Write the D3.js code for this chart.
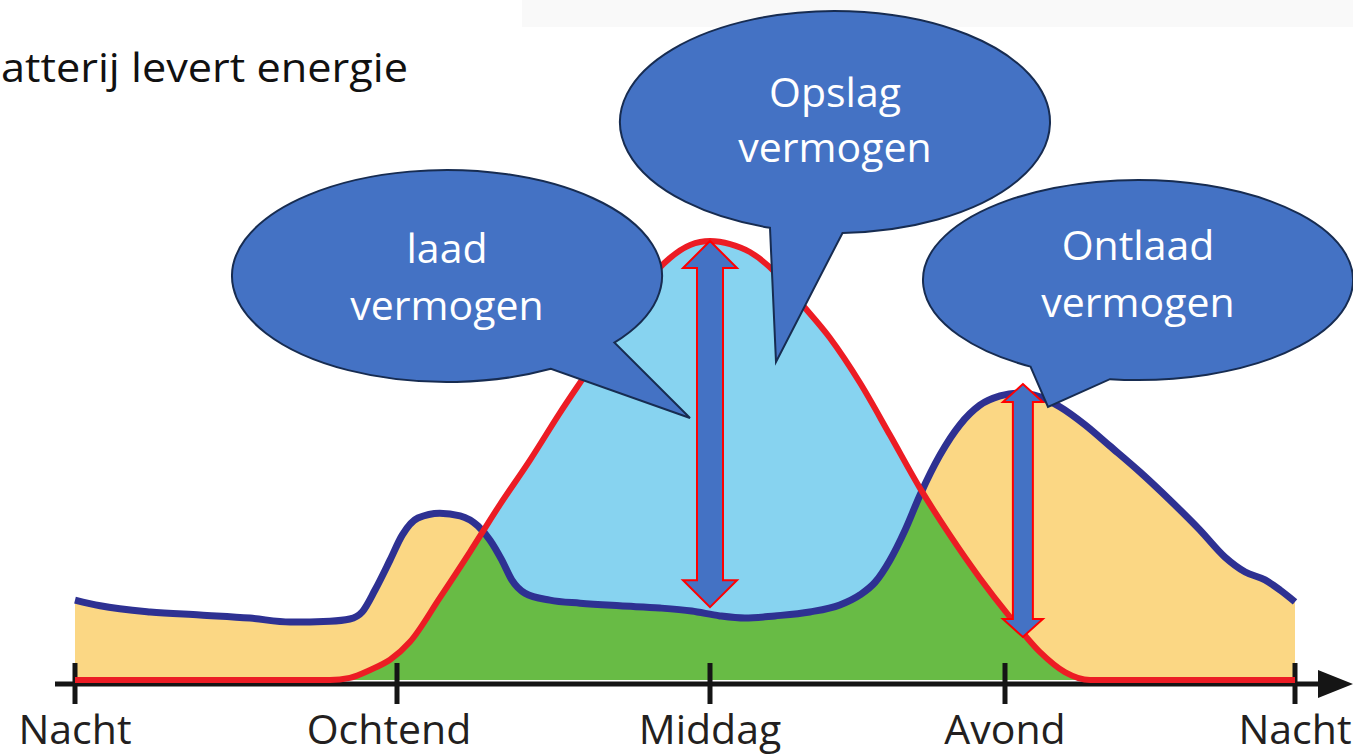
<!DOCTYPE html>
<html><head><meta charset="utf-8">
<script src="https://cdn.jsdelivr.net/npm/d3@7"></script>
<style>html,body{margin:0;padding:0;background:#fff;overflow:hidden}</style>
</head><body><svg id="c" width="1353" height="756" xmlns="http://www.w3.org/2000/svg"></svg>
<script>
// ---- data (hours of the day, relative power in % of solar peak) ----
const tickHours = [0, 6, 12, 18, 24];
const tickLabels = ["Nacht", "Ochtend", "Middag", "Avond", "Nacht"];

const demandHours = [0, 0.47, 1.40, 2.33, 3.26, 4.01, 4.75, 5.12, 5.35, 5.59, 5.87, 6.10, 6.40, 6.82, 7.21, 7.55, 7.78, 8.01, 8.20, 8.45, 8.93, 9.51, 10.27, 11.04, 11.65, 12.20, 12.71, 13.32, 14.03, 14.64, 15.05, 15.36, 15.66, 15.97, 16.27, 16.68, 17.08, 17.49, 17.90, 18.31, 18.72, 19.14, 19.66, 20.17, 20.79, 21.41, 22.03, 22.55, 22.97, 23.38, 23.69, 24];
const demandValues = [18.2, 16.9, 15.5, 14.8, 14.1, 13.2, 13.4, 13.9, 15.5, 20.5, 27.3, 33.0, 36.9, 38.0, 37.4, 35.1, 31.9, 27.3, 22.8, 19.8, 18.2, 17.5, 16.9, 16.4, 15.7, 14.6, 14.1, 14.6, 15.5, 17.1, 19.4, 22.3, 27.3, 34.2, 42.1, 51.3, 58.1, 62.6, 64.7, 65.4, 64.5, 62.2, 58.1, 53.3, 47.4, 41.0, 34.2, 28.0, 24.6, 22.8, 20.5, 17.8];

const solarHours = [0, 4.75, 5.12, 5.50, 5.87, 6.25, 6.82, 7.40, 7.97, 8.55, 9.12, 9.70, 10.27, 10.75, 11.23, 11.62, 12, 12.41, 12.81, 13.32, 13.83, 14.44, 15.05, 15.66, 16.27, 16.88, 17.49, 18.10, 18.72, 19.24, 19.76, 24];
const solarValues = [0, 0, 0.5, 2.3, 4.6, 8.7, 18.7, 29.2, 39.9, 50.1, 60.8, 71.1, 81.5, 90.0, 96.1, 99.1, 100, 99.3, 97.5, 92.9, 86.1, 77.9, 67.7, 55.8, 43.7, 33.0, 23.2, 14.4, 6.4, 1.8, 0, 0];

const arrowHours = [12, 18.37];
const arrowTop = [100, 67.4];
const arrowBottom = [16.6, 9.8];

const bubbleLines = [["laad", "vermogen"], ["Opslag", "vermogen"], ["Ontlaad", "vermogen"]];
const titleText = "atterij levert energie";

// ---- layout ----
const svg = d3.select("#c");
const x = d3.scaleLinear().domain(tickHours).range([75, 397, 710, 1005, 1295]);
const y = d3.scaleLinear().domain([0, 100]).range([680, 241]);

const demand = demandHours.map((h, i) => ({h, v: demandValues[i]}));
const solar = solarHours.map((h, i) => ({h, v: solarValues[i]}));

svg.append("rect").attr("width", 1353).attr("height", 756).attr("fill", "#ffffff");
svg.append("rect").attr("x", 522).attr("y", 0).attr("width", 831).attr("height", 27).attr("fill", "#f9f9f9");

// title (visible part, as in the source)
svg.append("text").attr("x", 1).attr("y", 82)
  .attr("textLength", 407).attr("lengthAdjust", "spacingAndGlyphs")
  .attr("font-family", "'Open Sans', sans-serif").attr("font-size", 40)
  .attr("fill", "#111").text(titleText);

const curve = d3.curveMonotoneX;
const area = d3.area().x(d => x(d.h)).y0(y(0)).y1(d => y(d.v)).curve(curve);
const line = d3.line().x(d => x(d.h)).y(d => y(d.v)).curve(curve);

const defs = svg.append("defs");
defs.append("clipPath").attr("id", "underSolar").append("path").attr("d", area(solar));

// fills
svg.append("path").attr("d", area(demand)).attr("fill", "#fbd784");
svg.append("path").attr("d", area(solar)).attr("fill", "#87d3f0");
svg.append("path").attr("d", area(demand)).attr("fill", "#68bb45").attr("clip-path", "url(#underSolar)");

// axis
const axisY = 684;
svg.append("line").attr("x1", 55).attr("x2", 1325).attr("y1", axisY).attr("y2", axisY)
  .attr("stroke", "#151515").attr("stroke-width", 5);
svg.append("path").attr("d", `M1318,${axisY - 14} L1353,${axisY} L1318,${axisY + 14} Z`).attr("fill", "#151515");
svg.selectAll(".tick").data(tickHours).join("line")
  .attr("x1", d => x(d)).attr("x2", d => x(d)).attr("y1", axisY - 21).attr("y2", axisY + 20)
  .attr("stroke", "#151515").attr("stroke-width", 5);
svg.selectAll(".tlab").data(tickHours).join("text")
  .attr("x", (d, i) => x(d) + (i === 1 ? -8 : 0)).attr("y", 744).attr("text-anchor", "middle")
  .attr("font-family", "'Open Sans', sans-serif").attr("font-size", 41).attr("fill", "#231f20")
  .text((d, i) => tickLabels[i]);

// curves
svg.append("path").attr("d", line(demand)).attr("fill", "none").attr("stroke", "#2e3192")
  .attr("stroke-width", 7).attr("stroke-linejoin", "round");
svg.append("path").attr("d", line(solar)).attr("fill", "none").attr("stroke", "#ec1c24")
  .attr("stroke-width", 6).attr("stroke-linejoin", "round");

// double arrows
const arrowStyle = [{hh: 27, sh: 13, hl: 27}, {hh: 20, sh: 10, hl: 18}];
arrowHours.forEach((h, i) => {
  const cx = x(h), t = y(arrowTop[i]), b = y(arrowBottom[i]);
  const {hh, sh, hl} = arrowStyle[i];
  const d = `M${cx},${t} L${cx + hh},${t + hl} L${cx + sh},${t + hl} L${cx + sh},${b - hl} L${cx + hh},${b - hl} L${cx},${b} L${cx - hh},${b - hl} L${cx - sh},${b - hl} L${cx - sh},${t + hl} L${cx - hh},${t + hl} Z`;
  svg.append("path").attr("d", d).attr("fill", "#4472c4").attr("stroke", "#ff0000").attr("stroke-width", 2);
});

// speech bubbles
const bubbles = [
  {cx: 447, cy: 276, rx: 215, ry: 106, a1: 38.9, a2: 61.1, tip: [690, 418], ty: [263, 320]},
  {cx: 835, cy: 122, rx: 215, ry: 111, a1: 88, a2: 107.6, tip: [776, 362], ty: [107, 162]},
  {cx: 1138, cy: 280, rx: 215, ry: 100, a1: 97.5, a2: 120, tip: [1048, 407], ty: [260, 317]}
];
function bubblePath(b) {
  const p = a => [b.cx + b.rx * Math.cos(a * Math.PI / 180), b.cy + b.ry * Math.sin(a * Math.PI / 180)];
  const A = p(b.a1), B = p(b.a2);
  return `M${B[0]},${B[1]} A${b.rx},${b.ry} 0 1 1 ${A[0]},${A[1]} L${b.tip[0]},${b.tip[1]} Z`;
}
bubbles.forEach((b, i) => {
  svg.append("path").attr("d", bubblePath(b)).attr("fill", "#4472c4")
    .attr("stroke", "#172c51").attr("stroke-width", 2).attr("stroke-linejoin", "miter");
  bubbleLines[i].forEach((t, j) => {
    svg.append("text").attr("x", b.cx).attr("y", b.ty[j]).attr("text-anchor", "middle")
      .attr("font-family", "'Open Sans', sans-serif").attr("font-size", 41).attr("fill", "#ffffff").text(t);
  });
});
</script></body></html>
